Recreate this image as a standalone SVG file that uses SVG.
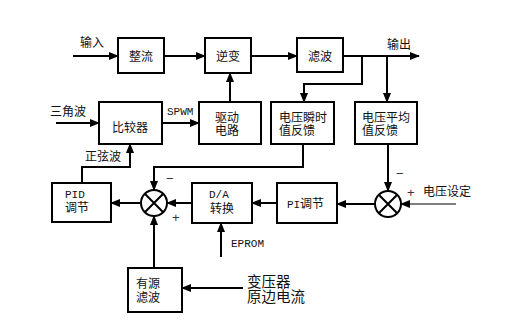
<svg xmlns="http://www.w3.org/2000/svg" width="528" height="330" viewBox="0 0 528 330">
<defs>
<marker id="ah" markerWidth="10" markerHeight="8" refX="9" refY="4" orient="auto" markerUnits="userSpaceOnUse">
<path d="M0,0 L10,4 L0,8 Z" fill="#000"/>
</marker>
<style>
.box{fill:#fff;stroke:#000;stroke-width:2}
.ln{fill:none;stroke:#000;stroke-width:2}
.thin{fill:none;stroke:#000;stroke-width:1.2}
.cn{font-family:"Noto Sans CJK SC",sans-serif;font-size:12px;fill:#111}
.lt{font-family:"Liberation Mono",monospace;font-size:11px;fill:#111}
.big{font-family:"Noto Sans CJK SC",sans-serif;font-size:14.5px;fill:#111}
.sg{font-family:"Liberation Sans",sans-serif;font-size:13px;fill:#333}
</style>
</defs>
<rect width="528" height="330" fill="#fff"/>

<g id="n-zhengliu"><rect class="box" x="118" y="38" width="46" height="35"/><text class="cn" x="141" y="61" text-anchor="middle">整流</text></g>
<g id="n-nibian"><rect class="box" x="205" y="38" width="46" height="35"/><text class="cn" x="228" y="61" text-anchor="middle">逆变</text></g>
<g id="n-lvbo"><rect class="box" x="297" y="38" width="46" height="34"/><text class="cn" x="320" y="61" text-anchor="middle">滤波</text></g>
<g id="n-bijiao"><rect class="box" x="99" y="102" width="63" height="42"/><text class="cn" x="130" y="132" text-anchor="middle">比较器</text></g>
<g id="n-qudong"><rect class="box" x="199" y="102" width="62" height="42"/><text class="cn" x="227" y="122" text-anchor="middle">驱动</text><text class="cn" x="227" y="135" text-anchor="middle">电路</text></g>
<g id="n-shunshi"><rect class="box" x="271" y="102" width="63" height="42"/><text class="cn" x="279" y="122">电压瞬时</text><text class="cn" x="279" y="135">值反馈</text></g>
<g id="n-pingjun"><rect class="box" x="355" y="102" width="62" height="42"/><text class="cn" x="362" y="122">电压平均</text><text class="cn" x="362" y="135">值反馈</text></g>
<g id="n-pid"><rect class="box" x="52" y="183" width="59" height="39"/><text class="lt" x="65" y="198">PID</text><text class="cn" x="65" y="212">调节</text></g>
<g id="n-sum1"><circle class="box" cx="154" cy="203" r="13"/><path class="ln" d="M144.8,193.8 L163.2,212.2 M163.2,193.8 L144.8,212.2" stroke-width="1.6"/></g>
<g id="n-da"><rect class="box" x="192" y="183" width="60" height="40"/><text class="lt" x="209" y="198">D/A</text><text class="cn" x="210" y="213">转换</text></g>
<g id="n-pi"><rect class="box" x="277" y="183" width="60" height="40"/><text class="lt" x="287" y="208">PI</text><text class="cn" x="300" y="208">调节</text></g>
<g id="n-sum2"><circle class="box" cx="388" cy="204" r="13"/><path class="ln" d="M378.8,194.8 L397.2,213.2 M397.2,194.8 L378.8,213.2" stroke-width="1.6"/></g>
<g id="n-youyuan"><rect class="box" x="128" y="268" width="54" height="44"/><text class="cn" x="136" y="288">有源</text><text class="cn" x="136" y="302">滤波</text></g>

<g id="connectors">
<path class="ln" d="M73,56 H118" marker-end="url(#ah)"/>
<path class="ln" d="M164,56 H205" marker-end="url(#ah)"/>
<path class="ln" d="M251,56 H297" marker-end="url(#ah)"/>
<path class="ln" d="M343,56 H419" marker-end="url(#ah)"/>
<path class="ln" d="M362,56 V84 H304 V102" marker-end="url(#ah)"/>
<path class="ln" d="M387,56 V102" marker-end="url(#ah)"/>
<path class="ln" d="M230,102 V73" marker-end="url(#ah)"/>
<path class="ln" d="M56,123 H99" marker-end="url(#ah)"/>
<path class="ln" d="M162,123 H199" marker-end="url(#ah)"/>
<path class="ln" d="M82,183 V167 H130 V144" marker-end="url(#ah)"/>
<path class="ln" d="M303,144 V167 H154 V190" marker-end="url(#ah)"/>
<path class="ln" d="M141,203 H111" marker-end="url(#ah)"/>
<path class="ln" d="M192,203 H167" marker-end="url(#ah)"/>
<path class="ln" d="M154,268 V216" marker-end="url(#ah)"/>
<path class="ln" d="M221,257 V223" marker-end="url(#ah)"/>
<path class="ln" d="M243,288 H182" marker-end="url(#ah)"/>
<path class="ln" d="M277,203 H252" marker-end="url(#ah)"/>
<path class="ln" d="M375,204 H337" marker-end="url(#ah)"/>
<path class="ln" d="M388,144 V191" marker-end="url(#ah)"/>
<path class="thin" d="M456,204 H401" marker-end="url(#ah)"/>
</g>

<g id="labels">
<text class="cn" x="80" y="47">输入</text>
<text class="cn" x="387" y="49">输出</text>
<text class="cn" x="50" y="116">三角波</text>
<text class="lt" x="167" y="115">SPWM</text>
<text class="cn" x="85" y="161">正弦波</text>
<text class="lt" x="231" y="247">EPROM</text>
<text class="cn" x="423" y="196">电压设定</text>
<text class="big" x="247" y="287">变压器</text>
<text class="big" x="247" y="302">原边电流</text>
<text class="sg" x="166" y="183">−</text>
<text class="sg" x="172" y="222">+</text>
<text class="sg" x="396" y="178">−</text>
<text class="sg" x="407" y="197">+</text>
</g>
</svg>
